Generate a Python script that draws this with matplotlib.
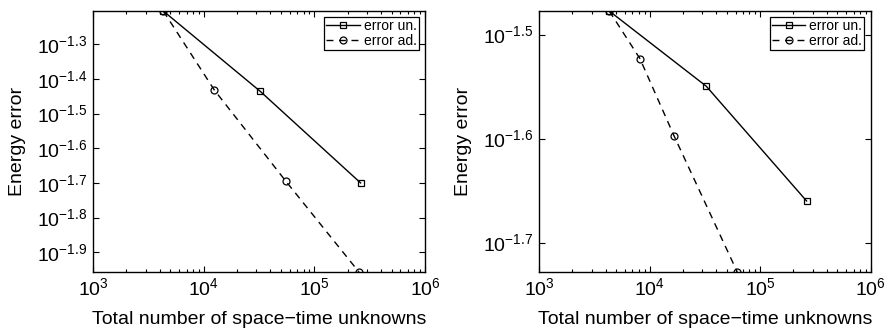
import matplotlib.pyplot as plt
from matplotlib.ticker import FixedLocator, FixedFormatter, LogLocator, NullFormatter, NullLocator

plt.rcParams['font.family'] = ['Liberation Sans', 'DejaVu Sans']
plt.rcParams['mathtext.fontset'] = 'custom'
plt.rcParams['mathtext.rm'] = 'Liberation Sans'
plt.rcParams['mathtext.it'] = 'Liberation Sans:italic'

# left panel
n_un_1 = [4316, 32300, 262000]
err_un_1 = [10**-1.2037, 10**-1.435, 10**-1.700]
n_ad_1 = [4316, 12500, 55000, 253000]
err_ad_1 = [10**-1.2037, 10**-1.432, 10**-1.694, 10**-1.957]
yticks_1 = [-1.3, -1.4, -1.5, -1.6, -1.7, -1.8, -1.9]

# right panel
n_un_2 = [4316, 32600, 263000]
err_un_2 = [10**-1.4773, 10**-1.5497, 10**-1.660]
n_ad_2 = [4316, 8180, 16600, 62100]
err_ad_2 = [10**-1.4773, 10**-1.5231, 10**-1.5971, 10**-1.7283]
yticks_2 = [-1.5, -1.6, -1.7]

fig = plt.figure(figsize=(8.88, 3.29), dpi=100)
ax1 = fig.add_axes([0.1047, 0.1733, 0.3739, 0.7933])
ax2 = fig.add_axes([0.6070, 0.1733, 0.3735, 0.7933])

panels = [(ax1, n_un_1, err_un_1, n_ad_1, err_ad_1, yticks_1),
          (ax2, n_un_2, err_un_2, n_ad_2, err_ad_2, yticks_2)]

for ax, nu, eu, na, ea, yt in panels:
    ax.loglog(nu, eu, 'k-', marker='s', ms=5, mfc='none', mew=0.9, lw=1.0, label='error un.')
    ax.loglog(na, ea, 'k--', marker='o', ms=5, mfc='none', mew=0.9, lw=1.0, dashes=(5, 4),
              label='error ad.')
    ax.set_xlim(1e3, 1e6)
    ax.set_ylim(min(eu + ea), max(eu + ea))
    ax.xaxis.set_major_locator(FixedLocator([1e3, 1e4, 1e5, 1e6]))
    ax.xaxis.set_major_formatter(FixedFormatter([r'$10^3$', r'$10^4$', r'$10^5$', r'$10^6$']))
    ax.xaxis.set_minor_locator(LogLocator(base=10, subs=range(2, 10)))
    ax.xaxis.set_minor_formatter(NullFormatter())
    ax.yaxis.set_major_locator(FixedLocator([10**v for v in yt]))
    ax.yaxis.set_major_formatter(FixedFormatter([r'$10^{%.1f}$' % v for v in yt]))
    ax.yaxis.set_minor_locator(NullLocator())
    ax.tick_params(which='both', direction='in', top=True, right=True, labelsize=14, width=0.8, pad=4)
    ax.tick_params(which='major', length=4)
    ax.tick_params(which='minor', length=2)
    for s in ax.spines.values():
        s.set_linewidth(1.0)
    ax.set_xlabel('Total number of space\u2212time unknowns', fontsize=14, labelpad=8)
    ax.set_ylabel('Energy error', fontsize=14, labelpad=8)
    leg = ax.legend(loc='upper right', fontsize=10, fancybox=False, edgecolor='k',
                    framealpha=1, borderpad=0.15, labelspacing=0.05, handlelength=2.4,
                    handletextpad=0.3, borderaxespad=0.45)
    leg.get_frame().set_linewidth(0.9)

fig.savefig('out.png', dpi=100)
